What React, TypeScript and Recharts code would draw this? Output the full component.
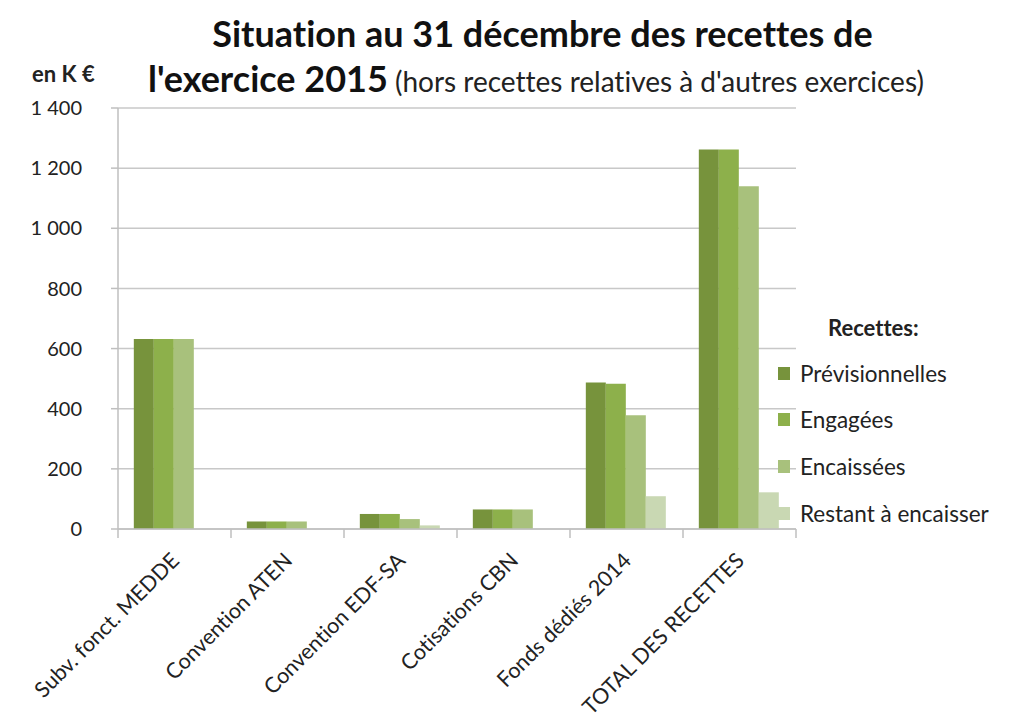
import React from "react";
import { BarChart, Bar, XAxis, YAxis, CartesianGrid, Legend } from "recharts";

const categories = [
  "Subv. fonct. MEDDE",
  "Convention ATEN",
  "Convention EDF-SA",
  "Cotisations CBN",
  "Fonds dédiés 2014",
  "TOTAL DES RECETTES",
];
const seriesNames = ["Prévisionnelles", "Engagées", "Encaissées", "Restant à encaisser"];
const previsionnelles = [632, 25, 50, 65, 487, 1262];
const engagees = [632, 25, 50, 65, 483, 1262];
const encaissees = [632, 25, 33, 65, 378, 1140];
const restant = [0, 0, 12, 0, 109, 122];
const yTicks = [0, 200, 400, 600, 800, 1000, 1200, 1400];

const data = categories.map((name, i) => ({
  name,
  prev: previsionnelles[i],
  eng: engagees[i],
  enc: encaissees[i],
  rest: restant[i],
}));

const FONT = "Lato, 'Noto Sans', sans-serif";
const W = 1019;
const H = 728;
const PLOT_LEFT = 118;
const PLOT_RIGHT = 796;
const PLOT_TOP = 108;
const PLOT_BOTTOM = 529;
const BAND = (PLOT_RIGHT - PLOT_LEFT) / categories.length;
const AXIS_GREY = "#bfbfbf";

const fmt = (v: number) =>
  v >= 1000 ? `${Math.floor(v / 1000)} ${String(v % 1000).padStart(3, "0")}` : String(v);

const XTick = (props: any) => {
  const { x, y, payload, index } = props;
  const ax = x + 6;
  const ay = y + 33;
  return (
    <g>
      <line x1={x - BAND / 2} x2={x - BAND / 2} y1={y} y2={y + 9} stroke={AXIS_GREY} strokeWidth={1.5} />
      {index === categories.length - 1 && (
        <line x1={x + BAND / 2} x2={x + BAND / 2} y1={y} y2={y + 9} stroke={AXIS_GREY} strokeWidth={1.5} />
      )}
      <text
        x={ax}
        y={ay}
        transform={`rotate(-45 ${ax} ${ay})`}
        textAnchor="end"
        fontSize={21.5}
        fontFamily={FONT}
        fill="#222"
        style={{ fontVariantLigatures: "none" }}
      >
        {payload.value}
      </text>
    </g>
  );
};

const LegendBox = (props: any) => {
  const items = [...(props.payload || [])].sort(
    (a: any, b: any) => seriesNames.indexOf(a.value) - seriesNames.indexOf(b.value)
  );
  return (
    <div style={{ fontFamily: FONT, color: "#222", position: "relative", width: 245, height: 240 }}>
      <div style={{ position: "absolute", left: 58, top: 14, fontSize: 22, fontWeight: 700 }}>Recettes:</div>
      {items.map((it: any, i: number) => (
        <div
          key={it.value}
          style={{ position: "absolute", left: 8, top: 59 + i * 46.7, display: "flex", alignItems: "center", height: 28 }}
        >
          <span style={{ display: "inline-block", width: 12, height: 13, background: it.color, marginRight: 10 }} />
          <span style={{ fontSize: 22.5 }}>{it.value}</span>
        </div>
      ))}
    </div>
  );
};

export default function App() {
  return (
    <div
      style={{
        position: "absolute",
        left: 0,
        top: 0,
        width: W,
        height: H,
        background: "#fff",
        fontVariantLigatures: "none",
      }}
    >
      <div
        style={{
          position: "absolute",
          left: 0,
          width: 1085,
          top: 11,
          textAlign: "center",
          fontFamily: FONT,
          fontWeight: 700,
          fontSize: 36,
          color: "#111",
          whiteSpace: "nowrap",
        }}
      >
        Situation au 31 décembre des recettes de
      </div>
      <div
        style={{
          position: "absolute",
          left: 148,
          top: 56,
          fontFamily: FONT,
          color: "#111",
          whiteSpace: "nowrap",
        }}
      >
        <span style={{ fontWeight: 700, fontSize: 36 }}>l'exercice 2015</span>
        <span style={{ fontSize: 28, color: "#222" }}> (hors recettes relatives à d'autres exercices)</span>
      </div>
      <div
        style={{ position: "absolute", left: 32, top: 60, fontFamily: FONT, fontWeight: 700, fontSize: 22, color: "#222" }}
      >
        en K €
      </div>
      <BarChart
        width={W}
        height={H}
        data={data}
        margin={{ top: PLOT_TOP, right: W - PLOT_RIGHT, bottom: 0, left: 0 }}
        barCategoryGap="14%"
        barGap={0}
      >
        <CartesianGrid vertical={false} stroke="#c8c8c8" strokeWidth={1.5} />
        <XAxis
          dataKey="name"
          height={H - PLOT_BOTTOM}
          interval={0}
          tickLine={false}
          tickSize={0}
          tickMargin={0}
          tick={<XTick />}
          stroke={AXIS_GREY}
          strokeWidth={1.5}
        />
        <YAxis
          width={PLOT_LEFT}
          domain={[0, 1400]}
          ticks={yTicks}
          tickFormatter={fmt}
          tickSize={7}
          tickMargin={29}
          stroke={AXIS_GREY}
          strokeWidth={1.5}
          tick={{ fontSize: 20, fontFamily: FONT, fill: "#222" }}
        />
        <Legend
          layout="vertical"
          align="center"
          verticalAlign="middle"
          content={<LegendBox />}
          wrapperStyle={{ left: 770, top: 300, width: 245 }}
        />
        <Bar dataKey="prev" name={seriesNames[0]} fill="#77933c" isAnimationActive={false} />
        <Bar dataKey="eng" name={seriesNames[1]} fill="#8db04b" isAnimationActive={false} />
        <Bar dataKey="enc" name={seriesNames[2]} fill="#a8c17c" isAnimationActive={false} />
        <Bar dataKey="rest" name={seriesNames[3]} fill="#c9d8b3" isAnimationActive={false} />
      </BarChart>
    </div>
  );
}
